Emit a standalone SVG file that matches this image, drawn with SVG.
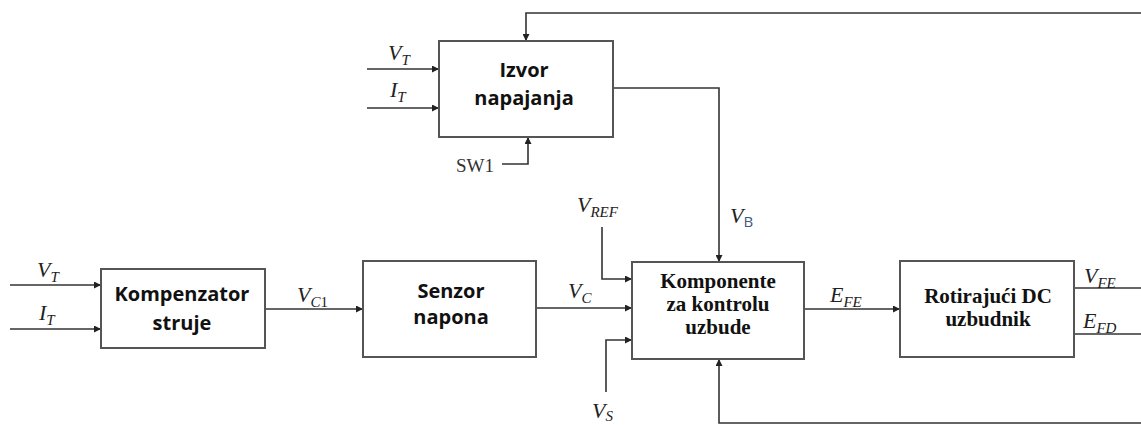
<svg xmlns="http://www.w3.org/2000/svg" width="1141" height="425" viewBox="0 0 1141 425">
<defs>
<marker id="arr" viewBox="0 0 10 10" refX="10" refY="5" markerWidth="7" markerHeight="7" markerUnits="userSpaceOnUse" orient="auto">
<path d="M0,0 L10,5 L0,10 z" fill="#222"/>
</marker>
<style>
.box{fill:#fff;stroke:#555;stroke-width:2}
.ln{fill:none;stroke:#333;stroke-width:1.6}
.arr{marker-end:url(#arr)}
.sans{font-family:"Open Sans","Liberation Sans",sans-serif;font-weight:bold;font-size:20px;fill:#111;text-anchor:middle}
.serif{font-family:"Liberation Serif","Times New Roman",serif;font-weight:bold;font-size:21px;fill:#111;text-anchor:middle}
.m{font-style:italic;font-size:22px;fill:#222}
.sub{font-size:15px}
</style>
</defs>
<g id="connectors">
<polyline class="ln arr" points="1141,13 526,13 526,41"/>
<line class="ln arr" x1="367" y1="69" x2="439" y2="69"/>
<line class="ln arr" x1="367" y1="108" x2="439" y2="108"/>
<polyline class="ln arr" points="502,164 528,164 528,137"/>
<polyline class="ln arr" points="613,88 719,88 719,262"/>
<line class="ln arr" x1="10" y1="285" x2="101" y2="285"/>
<line class="ln arr" x1="10" y1="329" x2="101" y2="329"/>
<line class="ln arr" x1="265" y1="309" x2="363" y2="309"/>
<line class="ln arr" x1="536" y1="308" x2="632" y2="308"/>
<polyline class="ln arr" points="602,227 602,279 632,279"/>
<polyline class="ln arr" points="606,392 606,340 632,340"/>
<line class="ln arr" x1="804" y1="309" x2="900" y2="309"/>
<line class="ln" x1="1074" y1="288" x2="1141" y2="288"/>
<line class="ln" x1="1074" y1="334" x2="1141" y2="334"/>
<polyline class="ln arr" points="1141,423 719,423 719,359"/>
</g>
<g id="labels" font-family="'Liberation Serif', 'Times New Roman', serif">
<text class="m" x="388" y="60">V<tspan class="sub" dy="5">T</tspan></text>
<text class="m" x="390" y="97">I<tspan class="sub" dy="5">T</tspan></text>
<text x="456" y="172" font-size="19" fill="#333">SW1</text>
<text class="m" x="37" y="277">V<tspan class="sub" dy="5">T</tspan></text>
<text class="m" x="39" y="320">I<tspan class="sub" dy="5">T</tspan></text>
<text class="m" x="297" y="302">V<tspan class="sub" dy="5">C</tspan><tspan class="sub" font-style="normal">1</tspan></text>
<text class="m" x="568" y="298">V<tspan class="sub" dy="5">C</tspan></text>
<text class="m" x="577" y="212">V<tspan class="sub" dy="5">REF</tspan></text>
<text class="m" x="592" y="418">V<tspan class="sub" dy="3">S</tspan></text>
<text class="m" x="730" y="223">V<tspan font-family="'Open Sans', 'Liberation Sans', sans-serif" font-style="normal" font-size="15" fill="#3d5a80" dy="4">B</tspan></text>
<text class="m" x="830" y="302">E<tspan class="sub" dy="5">FE</tspan></text>
<text class="m" x="1084" y="283">V<tspan class="sub" dy="5">FE</tspan></text>
<text class="m" x="1083" y="328">E<tspan class="sub" dy="5">FD</tspan></text>
</g>
<g id="izvor">
<rect class="box" x="439" y="41" width="174" height="96"/>
<text class="sans" x="524" y="77">Izvor</text>
<text class="sans" x="524" y="105">napajanja</text>
</g>
<g id="kompenzator">
<rect class="box" x="101" y="269" width="164" height="79"/>
<text class="sans" x="182" y="301">Kompenzator</text>
<text class="sans" x="182" y="330">struje</text>
</g>
<g id="senzor">
<rect class="box" x="363" y="261" width="173" height="96"/>
<text class="sans" x="451" y="298">Senzor</text>
<text class="sans" x="451" y="324">napona</text>
</g>
<g id="komponente">
<rect class="box" x="632" y="262" width="172" height="97"/>
<text class="serif" x="718" y="288">Komponente</text>
<text class="serif" x="718" y="311">za kontrolu</text>
<text class="serif" x="718" y="334">uzbude</text>
</g>
<g id="rotirajuci">
<rect class="box" x="900" y="261" width="174" height="96"/>
<text class="serif" x="988" y="303">Rotirajući DC</text>
<text class="serif" x="988" y="326">uzbudnik</text>
</g>
</svg>
